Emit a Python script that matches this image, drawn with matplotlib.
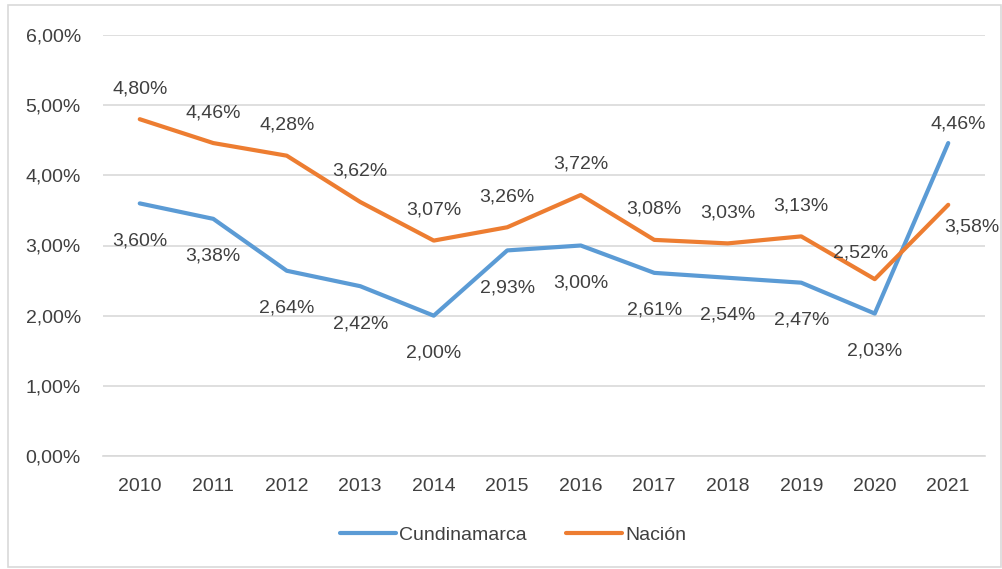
import matplotlib.pyplot as plt
from matplotlib.patches import Rectangle

years = ['2010', '2011', '2012', '2013', '2014', '2015', '2016', '2017', '2018', '2019', '2020', '2021']
cundinamarca = [3.60, 3.38, 2.64, 2.42, 2.00, 2.93, 3.00, 2.61, 2.54, 2.47, 2.03, 4.46]
nacion = [4.80, 4.46, 4.28, 3.62, 3.07, 3.26, 3.72, 3.08, 3.03, 3.13, 2.52, 3.58]
yticks = [0, 1, 2, 3, 4, 5, 6]

plt.rcParams['font.family'] = ['Liberation Sans Narrow', 'Liberation Sans', 'DejaVu Sans']
text_color = '#404040'
blue = '#5B9BD5'
orange = '#ED7D31'
fs = 14


def fmt(v):
    return f"{v:.2f}%".replace('.', ',')


fig = plt.figure(figsize=(10.03, 5.69), dpi=100)
ax = fig.add_axes([103 / 1003, 1 - 456 / 569, (985 - 103) / 1003, (456 - 35) / 569])

x = list(range(len(years)))
ax.plot(x, cundinamarca, color=blue, lw=3, label='Cundinamarca', solid_capstyle='round')
ax.plot(x, nacion, color=orange, lw=3, label='Nación', solid_capstyle='round')

ax.set_xlim(-0.5, len(years) - 0.5)
ax.set_ylim(0, 6)
ax.set_yticks(yticks)
ax.set_yticklabels([fmt(v) for v in yticks])
ax.set_xticks(x)
ax.set_xticklabels(years)
ax.tick_params(length=0, labelsize=fs, colors=text_color)
ax.tick_params(axis='x', pad=16)
ax.tick_params(axis='y', pad=16)
ax.grid(axis='y', color='#d9d9d9', lw=1.2)
ax.set_axisbelow(True)
for s in ['top', 'right', 'left']:
    ax.spines[s].set_visible(False)
ax.spines['bottom'].set_color('#d9d9d9')
ax.spines['bottom'].set_linewidth(1.2)

# data labels (offsets in points)
for i, v in enumerate(cundinamarca):
    off = (0, -27)
    if i == len(years) - 1:
        off = (7, 14)
    ax.annotate(fmt(v), (i, v), xytext=off, textcoords='offset points',
                ha='center', va='center', fontsize=fs, color=text_color)
for i, v in enumerate(nacion):
    off = (0, 22)
    if i == len(years) - 2:
        off = (-10, 19)
    if i == len(years) - 1:
        off = (17, -16)
    ax.annotate(fmt(v), (i, v), xytext=off, textcoords='offset points',
                ha='center', va='center', fontsize=fs, color=text_color)

fig.legend(loc='center', bbox_to_anchor=(513 / 1003, 1 - 535 / 569), ncol=2,
           frameon=False, fontsize=fs, labelcolor=text_color, handlelength=2.9,
           handletextpad=0.15, columnspacing=2.0)

fig.patches.append(Rectangle((8 / 1003, 2 / 569), 993 / 1003, 562 / 569,
                             transform=fig.transFigure, fill=False,
                             edgecolor='#d9d9d9', lw=1.2))

fig.savefig('out.png', dpi=100)
